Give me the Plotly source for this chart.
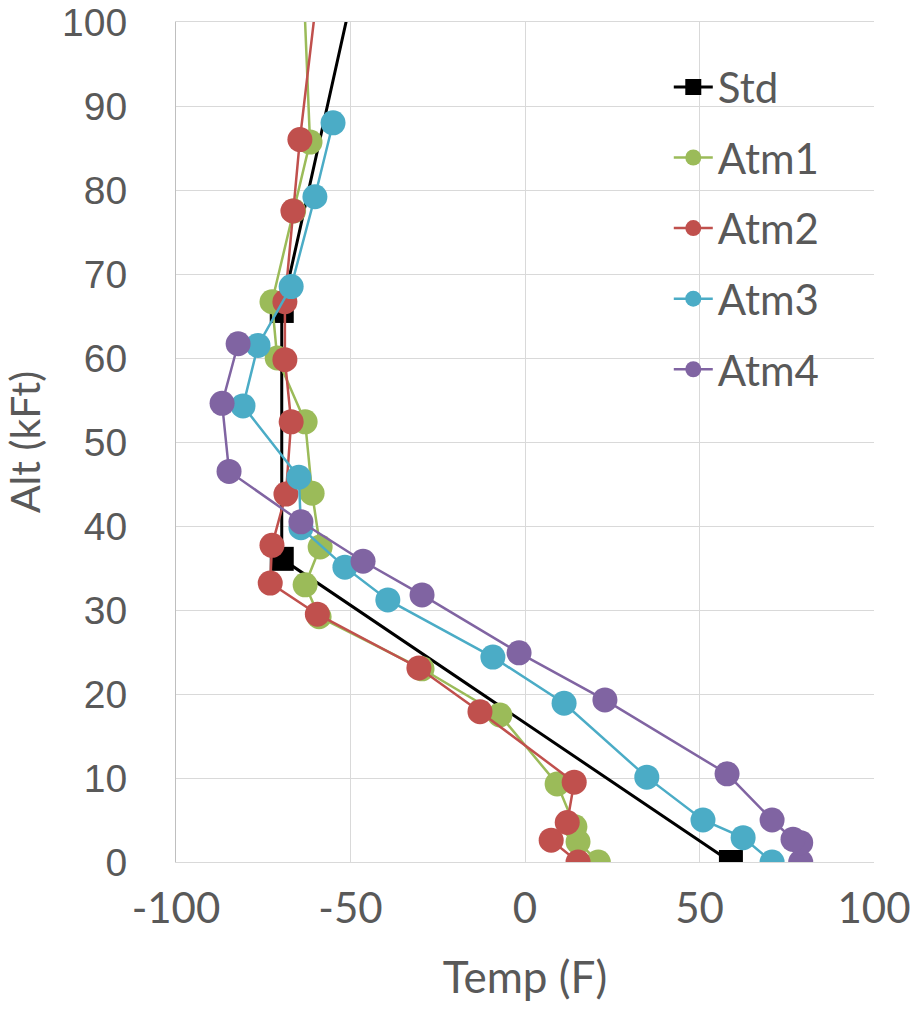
import plotly.graph_objects as go

# Standard atmosphere
std_temp = [59, -69.7, -69.7, -48.6]
std_alt = [0, 36.09, 65.6, 105]

atm1_temp = [21, 15.2, 14.3, 9.2, -7.2, -29.5, -59.0, -63, -58.7, -61, -63, -71, -72.5, -66.3, -61.6, -63.4]
atm1_alt = [0, 2.4, 4.2, 9.3, 17.5, 23.0, 29.2, 33.0, 37.5, 43.9, 52.4, 60.0, 66.7, 77.5, 85.7, 104]

atm2_temp = [15.2, 7.5, 12.1, 14.1, -12.9, -30.4, -59.5, -73, -72.5, -68.5, -67, -68.8, -68.8, -66.5, -64.5, -59.4]
atm2_alt = [0, 2.6, 4.7, 9.5, 17.9, 23.1, 29.5, 33.2, 37.7, 43.8, 52.4, 59.8, 66.7, 77.5, 86.0, 104]

atm3_temp = [70.8, 62.5, 51, 34.9, 11.2, -9.2, -39.3, -51.6, -64.2, -64.8, -80.8, -76.5, -67, -60.2, -55]
atm3_alt = [0, 2.9, 5.0, 10.1, 18.9, 24.4, 31.2, 35.1, 39.8, 45.8, 54.3, 61.5, 68.5, 79.2, 88.0]

atm4_temp = [79, 79, 76.8, 70.8, 57.9, 22.9, -1.7, -29.5, -46.4, -64.2, -84.8, -86.8, -82.2]
atm4_alt = [0, 2.3, 2.7, 5.0, 10.5, 19.3, 24.9, 31.8, 35.8, 40.5, 46.5, 54.6, 61.7]

x_ticks = [-100, -50, 0, 50, 100]
y_ticks = [0, 10, 20, 30, 40, 50, 60, 70, 80, 90, 100]

FONT = "Lato"
TXT = "#595959"
GRID = "#d9d9d9"

fig = go.Figure()

fig.add_trace(go.Scatter(
    x=std_temp, y=std_alt, name="Std", mode="lines+markers", legendgroup="g0",
    line=dict(color="black", width=3),
    marker=dict(symbol="square", size=24, color="black"),
))

series = [
    ("Atm1", atm1_temp, atm1_alt, "#9BBB59"),
    ("Atm2", atm2_temp, atm2_alt, "#C0504D"),
    ("Atm3", atm3_temp, atm3_alt, "#4BACC6"),
    ("Atm4", atm4_temp, atm4_alt, "#8064A2"),
]
for i, (name, xs, ys, col) in enumerate(series):
    fig.add_trace(go.Scatter(
        x=xs, y=ys, name=name, mode="lines+markers", legendgroup=f"g{i+1}",
        line=dict(color=col, width=2.5),
        marker=dict(symbol="circle", size=25, color=col),
    ))

fig.update_layout(
    width=913, height=1010,
    margin=dict(l=176, r=39, t=22, b=148, autoexpand=False),
    paper_bgcolor="white", plot_bgcolor="white",
    font=dict(family=FONT, size=38, color=TXT),
    showlegend=True,
    legend=dict(
        x=0.706, y=0.963, xanchor="left", yanchor="top",
        bgcolor="rgba(0,0,0,0)", font=dict(family=FONT, size=42, color=TXT),
        tracegroupgap=13, itemsizing="trace", itemwidth=39,
    ),
)

fig.update_xaxes(
    range=[-100, 100], tickvals=x_ticks, ticktext=[str(v) for v in x_ticks],
    showgrid=True, gridcolor=GRID, gridwidth=1, automargin=False,
    showline=True, linecolor=GRID, linewidth=1, mirror=True,
    zeroline=False, ticks="", ticklabelstandoff=10, ticklabeloverflow="allow",
    tickfont=dict(family=FONT, size=42, color=TXT),
    title=dict(text="Temp (F)", font=dict(family=FONT, size=44, color=TXT), standoff=30),
)
fig.update_yaxes(
    range=[0, 100], tickvals=y_ticks, ticktext=[str(v) for v in y_ticks],
    showgrid=True, gridcolor=GRID, gridwidth=1, automargin=False,
    showline=True, linecolor="#bfbfbf", linewidth=1, mirror=False,
    zeroline=False, ticks="", ticklabelstandoff=40, ticklabeloverflow="allow",
    tickfont=dict(family="Liberation Sans", size=39, color=TXT),
    title=dict(text="Alt (kFt)", font=dict(family=FONT, size=41, color=TXT), standoff=25),
)

fig.write_html("out.html")
